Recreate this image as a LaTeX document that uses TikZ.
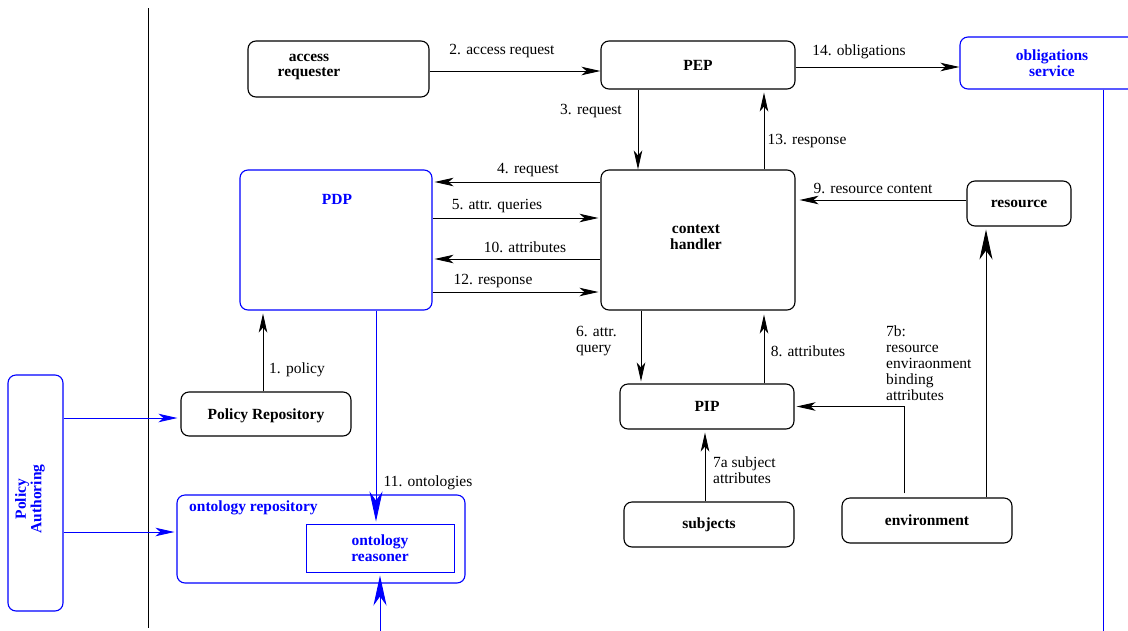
\documentclass[tikz,border=0pt]{standalone}
\usepackage{fontspec}
\setmainfont{Liberation Serif}
\usetikzlibrary{arrows.meta}
\begin{document}
\begin{tikzpicture}[x=1pt,y=-1pt,
  every node/.style={font=\fontsize{15.5}{16}\selectfont, inner sep=0pt},
  box/.style={draw, line width=1.1pt, rounded corners=8pt, font=\fontsize{15.5}{15.5}\selectfont\bfseries, align=center},
  bbox/.style={box, draw=blue, text=blue},
  lbl/.style={align=left},
  arr/.style={line width=0.9pt, -{Stealth[length=19pt,width=8.5pt,inset=5pt]}},
  barr/.style={line width=0.9pt, draw=blue, -{Stealth[length=19pt,width=8.5pt,inset=5pt]}},
  bigb/.style={line width=0.9pt, draw=blue, -{Stealth[length=30pt,width=13pt,inset=9pt]}},
  bigk/.style={line width=0.9pt, -{Stealth[length=30pt,width=13pt,inset=9pt]}},
]
\useasboundingbox (0,0) rectangle (1128,630);
\clip (0,0) rectangle (1128,630);

% separator between authoring and the runtime architecture
\draw[line width=1pt] (148,8) -- (148,628);

% boxes
\node[box, minimum width=181pt, minimum height=56pt] (ar) at (338.5,69) {};
\node[font=\fontsize{15.5}{15.5}\selectfont\bfseries, align=center] (artext) at (309,67) {access\\requester};
\node[box, minimum width=194pt, minimum height=48pt] (pep) at (698,65) {PEP};
\node[bbox, minimum width=184pt, minimum height=52pt] (obl) at (1052,63) {obligations\\service};
\node[bbox, minimum width=192pt, minimum height=140pt] (pdp) at (336,240) {};
\node[font=\fontsize{15.5}{15.5}\selectfont\bfseries, text=blue] (pdptext) at (337,199) {PDP};
\node[box, minimum width=194pt, minimum height=140pt] (ch) at (698,240) {};
\node[font=\fontsize{15.5}{15.5}\selectfont\bfseries, align=center] (chtext) at (696,237) {context\\handler};
\node[box, minimum width=104pt, minimum height=45pt] (res) at (1019,203.5) {resource};
\node[box, minimum width=174pt, minimum height=45pt] (pip) at (707,406.5) {PIP};
\node[box, minimum width=170pt, minimum height=45pt] (subj) at (709,524.5) {subjects};
\node[box, minimum width=170pt, minimum height=45pt] (env) at (927,520.5) {environment};
\node[box, minimum width=170pt, minimum height=44pt] (prep) at (266,414) {};
\node[font=\fontsize{15.5}{15.5}\selectfont\bfseries] (preptext) at (266,416) {Policy Repository};
\node[bbox, minimum width=288pt, minimum height=88pt] (ontrep) at (321,539) {};
\node[font=\fontsize{15.5}{15.5}\selectfont\bfseries, text=blue, anchor=north west] (ontreptext) at (189,501) {ontology repository};
\node[draw=blue, text=blue, line width=1pt, sharp corners, align=center,
      font=\fontsize{15.5}{15.5}\selectfont\bfseries,
      minimum width=148pt, minimum height=48pt] (ontreas) at (380,548) {ontology\\reasoner};
\node[bbox, minimum width=55pt, minimum height=236pt] (pa) at (35.5,493) {};
\node[font=\fontsize{15.5}{15.5}\selectfont\bfseries, text=blue, align=center, rotate=90] (patext) at (30,499) {Policy\\Authoring};

% request / response flow
\draw[arr] (ar.east |- 0,71) -- (pep.west |- 0,71);
\draw[arr] (pep.east |- 0,67) -- (obl.west |- 0,67);
\draw[arr] (pep.south -| 638,0) -- (ch.north -| 638,0);
\draw[arr, shorten >=3pt] (ch.north -| 764,0) -- (pep.south -| 764,0);
\draw[arr, shorten >=2pt] (ch.west |- 0,182) -- (pdp.east |- 0,182);
\draw[arr, shorten >=2pt] (pdp.east |- 0,218) -- (ch.west |- 0,218);
\draw[arr, shorten >=2pt] (ch.west |- 0,259) -- (pdp.east |- 0,259);
\draw[arr, shorten >=2pt] (pdp.east |- 0,292) -- (ch.west |- 0,292);
\draw[arr, shorten >=4pt] (res.west |- 0,200) -- (ch.east |- 0,200);
\draw[arr, shorten >=2pt] (ch.south -| 641,0) -- (pip.north -| 641,0);
\draw[arr, shorten >=4pt] (pip.north -| 764,0) -- (ch.south -| 764,0);
\draw[arr, shorten >=3pt] (subj.north -| 705,0) -- (pip.south -| 705,0);
\draw[arr, shorten <=4pt, shorten >=2pt] (env.north -| 904,0) |- (pip.east);
\draw[bigk, shorten >=3pt] (env.north -| 986,0) -- (res.south -| 986,0);
\draw[arr, shorten >=3pt] (prep.north -| 263,0) -- (pdp.south -| 263,0);

% ontology and authoring flows
\draw[bigb, shorten >=2pt] (pdp.south -| 376,0) -- (ontreas.north -| 376,0);
\coordinate (ontin) at (380,632);
\draw[bigb, shorten >=3pt] (ontin) -- (ontreas.south -| 380,0);
\draw[barr, shorten >=3pt] (pa.east |- 0,418) -- (prep.west |- 0,418);
\draw[barr, shorten >=2pt] (pa.east |- 0,532) -- (ontrep.west |- 0,532);
\coordinate (oblout) at (1103,632);
\draw[line width=1pt, blue] (obl.south -| 1103,0) -- (oblout);

% connector labels
\node (l2) at (502,51) {2. access request};
\node (l14) at (859,52) {14. obligations};
\node (l3) at (591,111) {3. request};
\node (l13) at (807,141) {13. response};
\node (l4) at (528,170) {4. request};
\node (l5) at (497,206) {5. attr. queries};
\node (l10) at (525,247) {10. attributes};
\node (l12) at (493,281) {12. response};
\node (l9) at (873,188) {9. resource content};
\node[lbl, anchor=north west] (l6) at (576,326) {6. attr.\\query};
\node (l8) at (808,351) {8. attributes};
\node[lbl, anchor=north west] (l7a) at (713,457) {7a subject\\attributes};
\node[lbl, anchor=north west] (l7b) at (886,326) {7b:\\resource\\enviraonment\\binding\\attributes};
\node (l1) at (297,370) {1. policy};
\node (l11) at (428,483) {11. ontologies};
\end{tikzpicture}
\end{document}
